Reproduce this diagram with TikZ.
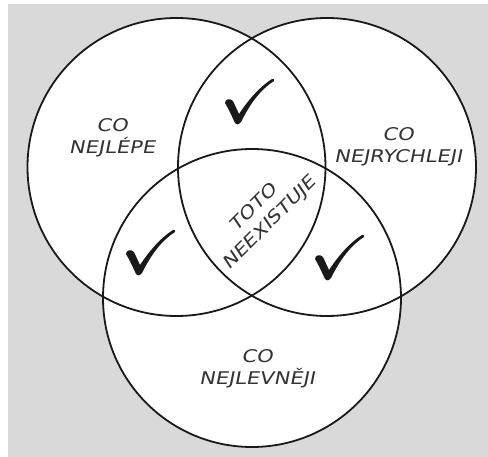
\documentclass[tikz,border=0pt]{standalone}
\usepackage{fontspec}
\newfontfamily\vennfont{DejaVu Sans}[FakeStretch=1.2, FakeSlant=0.2]
\tikzset{
  setline/.style={line width=1.8pt, black!90},
  setlabel/.style={font=\vennfont\fontsize{17.5}{22}\selectfont, text=black!80, align=center, inner sep=0pt},
  checkmark/.pic={
    \fill[black!90, line join=round]
      (-13,-19) .. controls (-9,-12) .. (-3,1) .. controls (0,3) .. (3,0)
      .. controls (12,-18) and (22,-32) .. (36,-41) .. controls (36,-43) .. (34,-43)
      .. controls (20,-34) and (9,-20) .. (1,-8) .. controls (-2,-14) .. (-5,-21)
      .. controls (-8,-24) and (-13,-23) .. (-13,-19) -- cycle;
  }
}
\begin{document}
\begin{tikzpicture}[x=1pt,y=-1pt]
  \useasboundingbox (0,0) rectangle (488,457);
  % Drawing background
  \fill[white] (0,0) rectangle (488,457);
  \fill[gray!30] (8,4) rectangle (488,457);

  % Centres of the three sets
  \coordinate (best) at (176.5,167);
  \coordinate (fast) at (327,167);
  \coordinate (cheap) at (252,298);

  % Filling the sets
  \fill[white] (best) circle (149);
  \fill[white] (fast) circle (149);
  \fill[white] (cheap) circle (149);

  % Drawing the set outlines
  \draw[setline] (best) circle (149);
  \draw[setline] (fast) circle (149);
  \draw[setline] (cheap) circle (149);

  % Marking the sets
  \node[setlabel, anchor=base] (bestlabel) at (112,154) {CO\\NEJLÉPE};
  \node[setlabel, anchor=base] (fastlabel) at (398,163) {CO\\NEJRYCHLEJI};
  \node[setlabel, anchor=base] (cheaplabel) at (257,385) {CO\\NEJLEVNĚJI};
  \node[setlabel, rotate=45] (nonelabel) at (262,216) {TOTO\\NEEXISTUJE};

  % Marking the pair overlaps
  \pic at (238,122) {checkmark};
  \pic at (139,273) {checkmark};
  \pic at (328,278) {checkmark};
\end{tikzpicture}
\end{document}
